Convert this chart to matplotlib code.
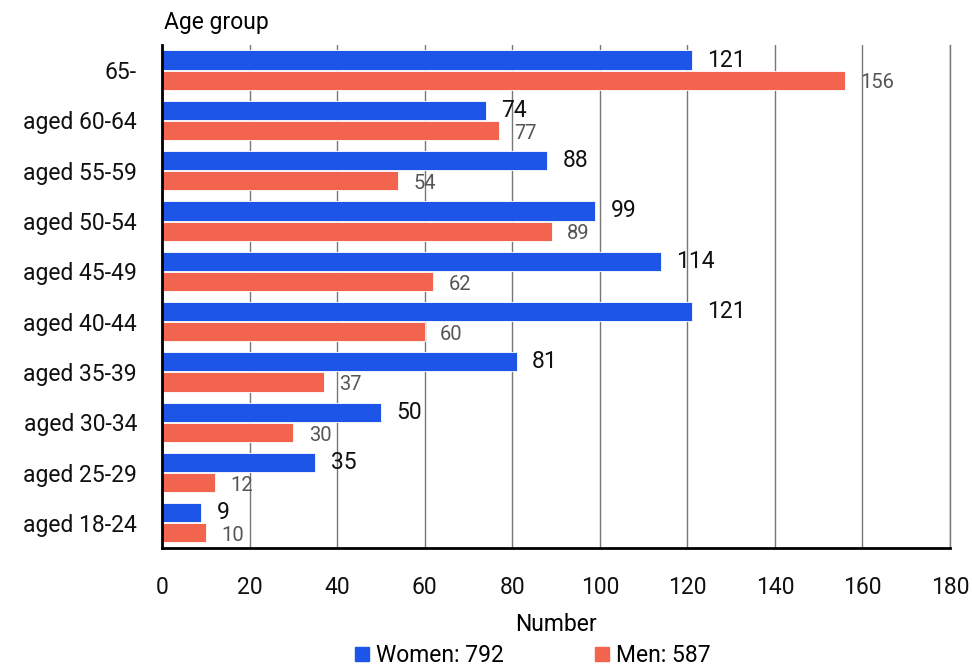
import matplotlib.pyplot as plt
import numpy as np

plt.rcParams['font.family'] = ['Roboto', 'DejaVu Sans']

# age groups, bottom to top
groups = ['aged 18-24', 'aged 25-29', 'aged 30-34', 'aged 35-39', 'aged 40-44',
          'aged 45-49', 'aged 50-54', 'aged 55-59', 'aged 60-64', '65-']
women = [9, 35, 50, 81, 121, 114, 99, 88, 74, 121]
men = [10, 12, 30, 37, 60, 62, 89, 54, 77, 156]
xticks = [0, 20, 40, 60, 80, 100, 120, 140, 160, 180]

blue = '#1c55e8'
red = '#f2644e'

fig = plt.figure(figsize=(9.72, 6.71), dpi=100)
ax = fig.add_axes([0.1667, 0.1833, 0.8107, 0.7497])

y = np.arange(len(groups))
h = 0.38
ax.barh(y + 0.2, women, height=h, color=blue, edgecolor='white', linewidth=0.6, zorder=3)
ax.barh(y - 0.2, men, height=h, color=red, edgecolor='white', linewidth=0.6, zorder=3)

for i in range(len(groups)):
    ax.annotate(str(women[i]), (women[i], y[i] + 0.2), xytext=(11, 0), textcoords='offset points',
                va='center', ha='left', fontsize=16.5, color='#111111', zorder=4)
    ax.annotate(str(men[i]), (men[i], y[i] - 0.2), xytext=(11, -2), textcoords='offset points',
                va='center', ha='left', fontsize=14.5, color='#555555', zorder=4)

ax.set_xlim(0, 180)
ax.set_ylim(-0.5, len(groups) - 0.5)
ax.set_xticks(xticks)
ax.set_yticks(y)
ax.set_yticklabels(groups)
ax.tick_params(axis='both', length=0, labelsize=16.5, colors='#111111')
ax.tick_params(axis='x', pad=20)
ax.tick_params(axis='y', pad=18)
ax.grid(axis='x', color='#777777', linewidth=1, zorder=0)
ax.axvline(180, color='#777777', linewidth=1, zorder=0, clip_on=False)

for s in ['top', 'right']:
    ax.spines[s].set_visible(False)
ax.spines['left'].set_linewidth(2)
ax.spines['bottom'].set_linewidth(2)
ax.spines['left'].set_zorder(5)

ax.set_xlabel('Number', fontsize=16.5, labelpad=10)
fig.text(0.169, 0.966, 'Age group', fontsize=16.5, ha='left', va='center')

handles = [plt.Rectangle((0, 0), 1, 1, color=blue), plt.Rectangle((0, 0), 1, 1, color=red)]
fig.legend(handles, ['Women: %d' % sum(women), 'Men: %d' % sum(men)], loc='lower center',
           bbox_to_anchor=(0.548, -0.025), ncol=2, frameon=False, fontsize=16.5,
           handlelength=0.6, handleheight=0.6, handletextpad=0.3, columnspacing=4.0)

fig.savefig('out.png', dpi=100)
